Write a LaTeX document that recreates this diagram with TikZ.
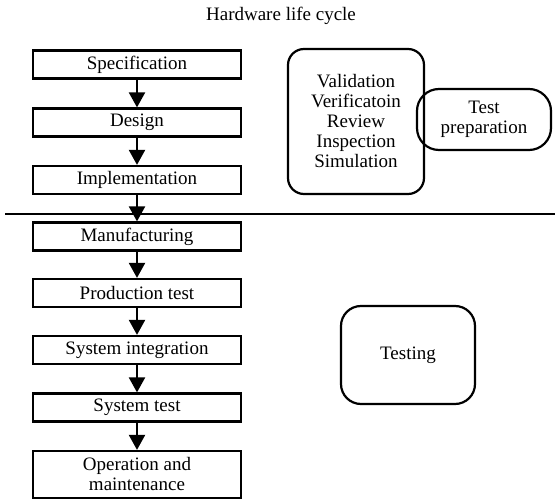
\documentclass[tikz,border=0pt]{standalone}
\usepackage{fontspec}
\setmainfont{Liberation Serif}
\usepackage{tikz}
\usetikzlibrary{arrows.meta,positioning}

\begin{document}
\begin{tikzpicture}[
    x=1pt, y=-1pt,
    every node/.style={font=\fontsize{19}{20}\selectfont},
    phase/.style={draw, line width=2.2pt, minimum width=208pt, minimum height=28pt, inner sep=0pt, align=center},
    activity/.style={draw, line width=2.2pt, inner sep=0pt, align=center},
    arr/.style={-{Triangle[length=15pt, width=16pt]}, line width=2.2pt}
]
\useasboundingbox (0,0) rectangle (555,502);
\node (title) at (281,16) {Hardware life cycle};
\node[phase] (spec) at (137,64.5) {Specification};
\node[phase] (design) at (137,122.5) {Design};
\node[phase] (impl) at (137,180) {Implementation};
\node[phase] (manu) at (137,236.5) {Manufacturing};
\node[phase] (prod) at (137,293) {Production test};
\node[phase] (integ) at (137,350) {System integration};
\node[phase] (systest) at (137,407.5) {System test};
\node[phase, minimum height=47pt] (oper) at (137,474.5) {Operation and\\maintenance};
\node[activity, rounded corners=16pt, minimum width=136pt, minimum height=145pt] (verif) at (356,121.5) {Validation\\Verificatoin\\Review\\Inspection\\Simulation};
\node[activity, rounded corners=22pt, minimum width=134pt, minimum height=61pt] (prep) at (484,119.5) {Test\\preparation};
\node[activity, rounded corners=20pt, minimum width=134pt, minimum height=98pt] (testing) at (408,355) {Testing};
\coordinate (divL) at (5,214);
\coordinate (divR) at (555,214);

\draw[line width=2.2pt] (divL) -- (divR);
\draw[arr] (spec) -- (design);
\draw[arr] (design) -- (impl);
\draw[arr] (impl) -- (manu);
\draw[arr] (manu) -- (prod);
\draw[arr] (prod) -- (integ);
\draw[arr] (integ) -- (systest);
\draw[arr] (systest) -- (oper);
\end{tikzpicture}
\end{document}
